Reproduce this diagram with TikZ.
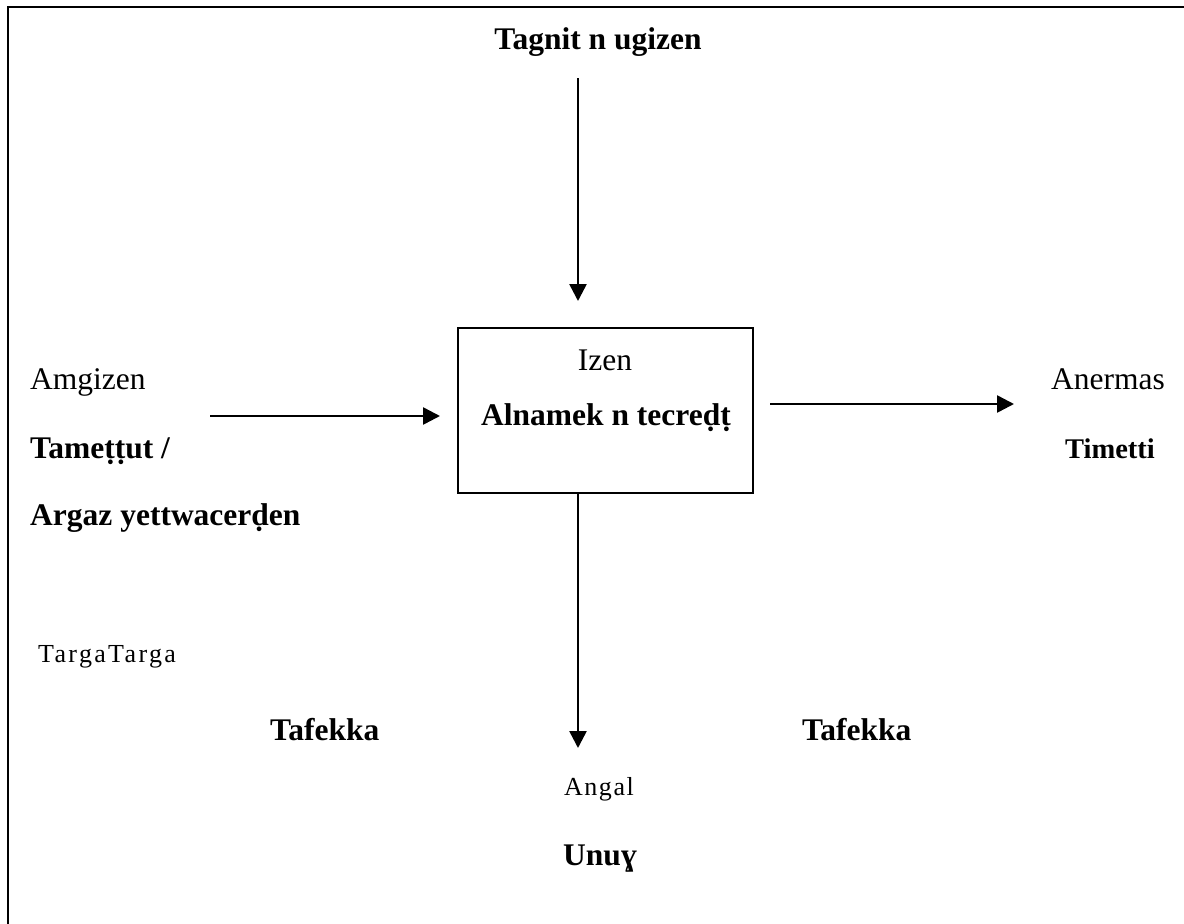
\documentclass[tikz,border=0pt]{standalone}
\usepackage{fontspec}
\setmainfont{Liberation Serif}
\usetikzlibrary{arrows.meta}
\begin{document}
\begin{tikzpicture}[x=1pt,y=-1pt,
  lbl/.style={inner sep=0pt, font=\fontsize{31.5}{36}\selectfont},
  blbl/.style={inner sep=0pt, font=\fontsize{31.5}{36}\selectfont\bfseries},
  bsm/.style={inner sep=0pt, font=\fontsize{28.5}{34}\selectfont\bfseries},
  slbl/.style={inner sep=0pt, font=\fontsize{26}{30}\selectfont\addfontfeatures{LetterSpace=6}},
  swide/.style={inner sep=0pt, font=\fontsize{26}{30}\selectfont\addfontfeatures{LetterSpace=9}},
  arr/.style={line width=2.6pt, -{Triangle[length=17pt,width=17pt]}},
  framestyle/.style={line width=2.6pt},
  boxstyle/.style={draw, line width=2pt, minimum width=295pt, minimum height=165pt, inner sep=0pt}]
\useasboundingbox (0,0) rectangle (1184,924);
\draw[framestyle] (8,924) -- (8,7) -- (1184,7);

% central box
\node[boxstyle] (box) at (605.5,410.5) {};
\node[lbl, anchor=base] (izen) at (605,370) {Izen};
\node[blbl, anchor=base] (alnamek) at (606,425) {Alnamek n tecreḍṭ};

% top
\node[blbl, anchor=base] (tagnit) at (598,49) {Tagnit n ugizen};
\coordinate (t1) at (578,78);
\coordinate (t2) at (578,301);
\draw[arr] (t1) -- (t2);

% left
\node[lbl, anchor=base west] (amgizen) at (30,389) {Amgizen};
\node[blbl, anchor=base west] (tamettut) at (30,458) {Tameṭṭut /};
\node[blbl, anchor=base west] (argaz) at (30,525) {Argaz yettwacerḍen};
\coordinate (l1) at (210,416);
\coordinate (l2) at (440,416);
\draw[arr] (l1) -- (l2);

% right
\node[lbl, anchor=base] (anermas) at (1108,389) {Anermas};
\node[bsm, anchor=base] (timetti) at (1110,458) {Timetti};
\coordinate (r1) at (770,404);
\coordinate (r2) at (1014,404);
\draw[arr] (r1) -- (r2);

% bottom
\coordinate (b1) at (578,492);
\coordinate (b2) at (578,748);
\draw[arr] (b1) -- (b2);
\node[swide, anchor=base west] (targa) at (38,662) {TargaTarga};
\node[blbl, anchor=base west] (tafekka1) at (270,740) {Tafekka};
\node[blbl, anchor=base west] (tafekka2) at (802,740) {Tafekka};
\node[slbl, anchor=base] (angal) at (599,795) {Angal};
\node[blbl, anchor=base] (unuy) at (600,865) {Unuɣ};
\end{tikzpicture}
\end{document}
